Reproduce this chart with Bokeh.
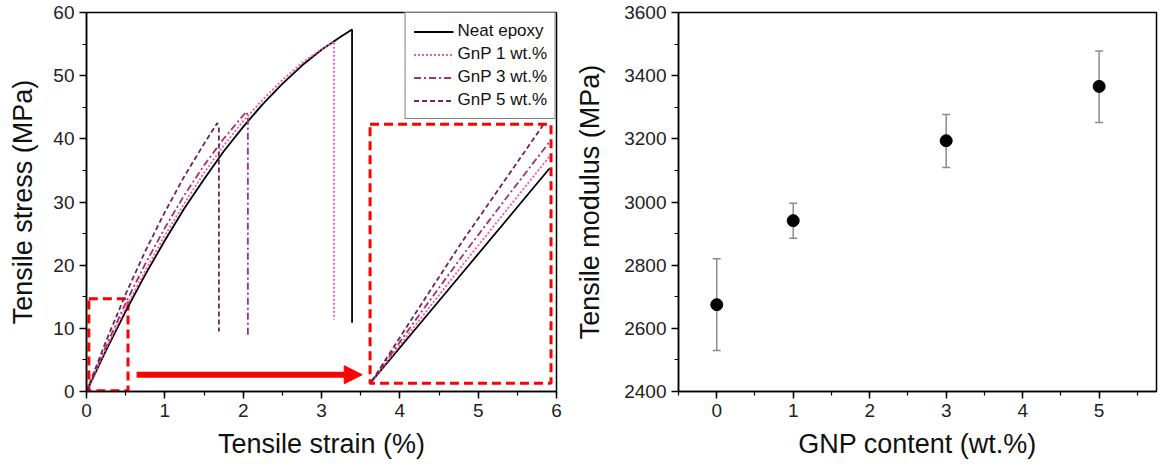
from bokeh.plotting import figure
from bokeh.layouts import row
from bokeh.models import (ColumnDataSource, Whisker, TeeHead, Arrow, NormalHead,
                          SingleIntervalTicker, Range1d)
from bokeh.embed import file_html
from bokeh.resources import INLINE

FONT = "Liberation Sans"

# ---------------- Left panel data: stress-strain curves ----------------
neat_strain = [0, 0.25, 0.5, 0.75, 1.0, 1.25, 1.5, 1.75, 2.0, 2.25, 2.5, 2.75, 3.0, 3.25, 3.39, 3.39]
neat_stress = [0, 6.5, 12.7, 18.5, 23.9, 29.0, 33.6, 38.0, 41.9, 45.5, 48.7, 51.6, 54.1, 56.2, 57.3, 10.9]

gnp1_strain = [0, 0.25, 0.5, 0.75, 1.0, 1.25, 1.5, 1.75, 2.0, 2.25, 2.5, 2.75, 3.0, 3.16, 3.16]
gnp1_stress = [0, 6.8, 13.2, 19.1, 24.7, 29.8, 34.6, 38.9, 42.8, 46.2, 49.3, 52.0, 54.2, 55.4, 11.4]

gnp3_strain = [0, 0.25, 0.5, 0.75, 1.0, 1.25, 1.5, 1.75, 2.04, 2.06, 2.06]
gnp3_stress = [0, 7.2, 14.0, 20.2, 25.9, 31.1, 35.8, 40.0, 44.3, 43.6, 8.5]

gnp5_strain = [0, 0.25, 0.5, 0.75, 1.0, 1.25, 1.5, 1.67, 1.69, 1.69]
gnp5_stress = [0, 8.0, 15.4, 22.2, 28.4, 34.1, 39.2, 42.5, 41.8, 9.5]

# magnified view of the initial region (drawn in the inset box)
inset_neat_x = [3.64, 4.2, 4.8, 5.4, 5.91]
inset_neat_y = [1.6, 9.9, 18.8, 27.7, 35.3]
inset_gnp1_x = [3.64, 4.2, 4.8, 5.4, 5.91]
inset_gnp1_y = [1.6, 10.5, 20.0, 29.3, 37.2]
inset_gnp3_x = [3.64, 4.2, 4.8, 5.4, 5.91]
inset_gnp3_y = [1.6, 11.3, 21.5, 31.3, 39.5]
inset_gnp5_x = [3.64, 4.2, 4.8, 5.4, 5.83]
inset_gnp5_y = [1.6, 12.4, 23.8, 34.5, 42.2]

# annotation boxes / arrow (data coordinates)
small_box = dict(left=0.03, right=0.53, bottom=0.1, top=14.7)
inset_box = dict(left=3.62, right=5.93, bottom=1.3, top=42.3)
arrow_pos = dict(x_start=0.64, x_end=3.52, y=2.65)

# ---------------- Right panel data: tensile modulus ----------------
gnp_content = [0, 1, 3, 5]
modulus = [2675, 2941, 3194, 3366]
modulus_upper = [2820, 2996, 3277, 3478]
modulus_lower = [2530, 2885, 3109, 3252]

labels = ["Neat epoxy", "GnP 1 wt.%", "GnP 3 wt.%", "GnP 5 wt.%"]
colors = ["#000000", "#ff4fa8", "#a5306e", "#73234f"]
dashes = ["solid", "2 2", "7 3 2 3", "5 3"]

H = 464
TOP = 12
BOTTOM = 73


def style(p):
    p.outline_line_color = "black"
    p.outline_line_width = 1.5
    p.outline_line_alpha = 1
    p.xgrid.visible = False
    p.ygrid.visible = False
    p.background_fill_color = "white"
    p.border_fill_color = "white"
    for ax in (p.xaxis[0], p.yaxis[0]):
        ax.axis_line_color = "black"
        ax.axis_line_width = 1.5
        ax.major_tick_line_color = "black"
        ax.major_tick_line_width = 1.5
        ax.minor_tick_line_color = "black"
        ax.minor_tick_line_width = 1.2
        ax.major_tick_out = 7
        ax.major_tick_in = 0
        ax.minor_tick_out = 4
        ax.minor_tick_in = 0
        ax.major_label_text_font = FONT
        ax.major_label_text_font_size = "19px"
        ax.major_label_text_color = "#222222"
        ax.axis_label_text_font = FONT
        ax.axis_label_text_font_size = "27px"
        ax.axis_label_text_font_style = "normal"
        ax.axis_label_text_color = "#111111"
    p.xaxis.major_label_standoff = 5
    p.xaxis.axis_label_standoff = 9


# ---------------- Left figure ----------------
p1 = figure(width=569, height=H, output_backend="svg", toolbar_location=None,
            x_range=Range1d(0, 6), y_range=Range1d(0, 60),
            min_border_left=86, min_border_right=13, min_border_top=TOP, min_border_bottom=BOTTOM)
style(p1)
p1.xaxis.ticker = SingleIntervalTicker(interval=1, num_minor_ticks=2)
p1.yaxis.ticker = SingleIntervalTicker(interval=10, num_minor_ticks=2)
p1.xaxis.axis_label = "Tensile strain (%)"
p1.yaxis.axis_label = "Tensile stress (MPa)"
p1.yaxis.axis_label_standoff = 12

curves = [(neat_strain, neat_stress), (gnp1_strain, gnp1_stress),
          (gnp3_strain, gnp3_stress), (gnp5_strain, gnp5_stress)]
insets = [(inset_neat_x, inset_neat_y), (inset_gnp1_x, inset_gnp1_y),
          (inset_gnp3_x, inset_gnp3_y), (inset_gnp5_x, inset_gnp5_y)]

# red dashed boxes
for b in (small_box, inset_box):
    p1.quad(left=[b["left"]], right=[b["right"]], bottom=[b["bottom"]], top=[b["top"]],
            fill_color=None, line_color="#ff0000", line_width=3, line_dash="9 5")

for (xs, ys), lab, c, d in zip(curves, labels, colors, dashes):
    p1.line(xs, ys, line_color=c, line_width=1.8, line_dash=d, legend_label=lab)
for (xs, ys), c, d in zip(insets, colors, dashes):
    p1.line(xs, ys, line_color=c, line_width=1.8, line_dash=d)

p1.add_layout(Arrow(end=NormalHead(size=18, fill_color="#ff0000", line_color="#ff0000"),
                    x_start=arrow_pos["x_start"], y_start=arrow_pos["y"],
                    x_end=arrow_pos["x_end"], y_end=arrow_pos["y"],
                    line_color="#ff0000", line_width=6))

lg = p1.legend[0]
lg.location = "top_right"
lg.margin = 0
lg.border_line_color = "black"
lg.border_line_width = 1
lg.background_fill_color = "white"
lg.background_fill_alpha = 1
lg.padding = 8
lg.spacing = 3
lg.label_text_font = FONT
lg.label_text_font_size = "17px"
lg.label_text_color = "#111111"
lg.glyph_width = 40
lg.glyph_height = 19
lg.label_height = 19
lg.label_standoff = 4

# ---------------- Right figure ----------------
p2 = figure(width=590, height=H, output_backend="svg", toolbar_location=None,
            x_range=Range1d(-0.5, 5.75), y_range=Range1d(2400, 3600),
            min_border_left=109, min_border_right=3, min_border_top=TOP, min_border_bottom=BOTTOM)
style(p2)
p2.xaxis.ticker = SingleIntervalTicker(interval=1, num_minor_ticks=2)
p2.yaxis.ticker = SingleIntervalTicker(interval=200, num_minor_ticks=2)
p2.xaxis.axis_label = "GNP content (wt.%)"
p2.yaxis.axis_label = "Tensile modulus (MPa)"
p2.yaxis.axis_label_standoff = 16

src = ColumnDataSource(dict(x=gnp_content, y=modulus, upper=modulus_upper, lower=modulus_lower))
p2.add_layout(Whisker(source=src, base="x", upper="upper", lower="lower",
                      line_color="#8c8c8c", line_width=1.5,
                      upper_head=TeeHead(size=8, line_color="#8c8c8c", line_width=1.5),
                      lower_head=TeeHead(size=8, line_color="#8c8c8c", line_width=1.5)))
p2.scatter("x", "y", source=src, size=12, fill_color="black", line_color="black")

layout = row(p1, p2)
open("out.html", "w").write(file_html(layout, INLINE))
